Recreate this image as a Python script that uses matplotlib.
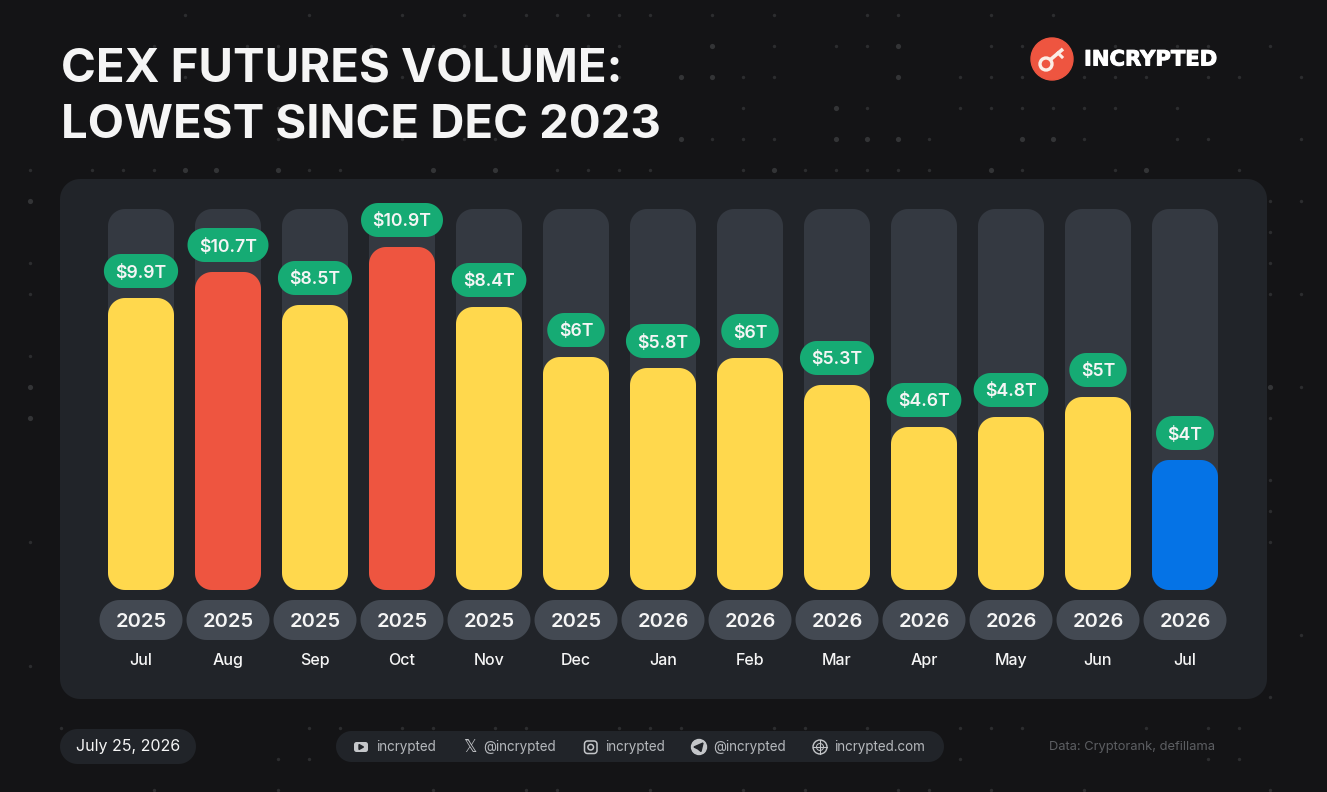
import numpy as np
import matplotlib
matplotlib.use("Agg")
import matplotlib.pyplot as plt
import matplotlib.patheffects as pe
from matplotlib.patches import Circle, Polygon

months = ["Jul", "Aug", "Sep", "Oct", "Nov", "Dec", "Jan", "Feb", "Mar", "Apr", "May", "Jun", "Jul"]
years = ["2025"] * 6 + ["2026"] * 7
value_labels = ["$9.9T", "$10.7T", "$8.5T", "$10.9T", "$8.4T", "$6T", "$5.8T", "$6T",
                "$5.3T", "$4.6T", "$4.8T", "$5T", "$4T"]
# the bars are not to scale with their labels, so these are the drawn heights
bar_heights = [292, 318, 285, 343, 283, 233, 222, 232, 205, 163, 173, 193, 130]
bar_colors = ["y", "r", "y", "r", "y", "y", "y", "y", "y", "y", "y", "y", "b"]
track_height = 381

# background dots: grid row -> grid columns
dot_rows = {
    0: [5, 9, 12, 14, 16, 17, 18, 19, 20, 22, 24, 27, 28, 31, 33],
    1: [4, 7, 8, 11, 13, 14, 15, 16, 18, 19, 22, 24, 26, 27, 28, 31, 32, 35, 37, 38, 40],
    2: [5, 12, 19, 21, 22, 23, 24, 28, 30, 31, 32, 34, 35, 36, 38, 39, 41],
    3: [8, 23, 26, 27, 30, 31, 32, 33, 34, 35, 37],
    4: [8, 12, 14, 15, 21, 22, 23, 24, 26, 27, 28, 29, 32, 33, 34, 37, 38, 41],
    5: [0, 2, 3, 4, 5, 6, 8, 9, 10, 13, 15, 17, 18, 19, 20, 23, 24, 25, 26, 27, 28, 29,
        31, 32, 35, 36, 39],
    6: [0, 40, 41], 7: [40], 8: [0, 40], 9: [0, 40, 41], 11: [0], 12: [0, 40, 41],
    13: [0, 40], 15: [40], 16: [40], 17: [0, 40], 20: [41], 21: [0], 22: [40],
    23: [1, 9, 10, 12, 13, 15, 16, 19, 20, 21, 24, 25, 27, 30, 31, 32, 36, 38, 39],
    24: [8, 9, 30, 38, 39],
    25: [4, 8, 13, 16, 17, 20, 23, 25, 28, 29, 31, 34, 40],
}
big_dots = [(1, 22), (1, 28), (2, 21), (2, 22), (2, 28), (3, 26), (4, 21), (4, 26), (4, 27),
            (4, 28), (4, 32), (4, 33), (5, 5), (5, 6), (5, 8), (5, 13), (5, 15), (5, 24),
            (5, 31), (5, 36), (12, 0), (13, 0), (12, 40), (6, 0)]

social_labels = ["incrypted", "@incrypted", "incrypted", "@incrypted", "incrypted.com"]

BG = "#141416"
PANEL = "#212429"
TRACK = "#343941"
PILL = "#434952"
GREEN = "#16AB74"
COLORS = {"y": "#FFD84D", "r": "#EE5540", "b": "#0573E6"}
TXT = "#F5F5F5"
ICON = "#C4C6C9"
FONT = "Inter"
PLOT_W, PLOT_H = 1327, 792
STEP = 87

fig = plt.figure(figsize=(13.27, 7.92), dpi=100, facecolor=BG)

# page furniture, in pixels from the top left
bg = fig.add_axes([0, 0, 1, 1])
bg.set_xlim(0, PLOT_W)
bg.set_ylim(PLOT_H, 0)
bg.axis("off")


def round_box(ax, x0, y0, w, h, rx, color, zorder=2, ry=None, **kw):
    # true circular corners, the bezier of FancyBboxPatch looks too square on the pills
    ry = rx if ry is None else ry
    pts = []
    corners = [(x0 + w - rx, y0 + h - ry, 0), (x0 + rx, y0 + h - ry, 90),
               (x0 + rx, y0 + ry, 180), (x0 + w - rx, y0 + ry, 270)]
    for cx, cy, start in corners:
        a = np.radians(np.linspace(start, start + 90, 16))
        pts.extend(zip(cx + rx * np.cos(a), cy + ry * np.sin(a)))
    box = Polygon(pts, closed=True, fc=color, ec="none", zorder=zorder, **kw)
    ax.add_patch(box)
    return box


for row, cols in dot_rows.items():
    for c in cols:
        big = (row, c) in big_dots
        bg.scatter(29.7 + 31 * c, 14.5 + 31 * row, s=14 if big else 6,
                   color="#333436" if big else "#2c2d2f", lw=0, zorder=1)

bg.text(61, 70, "CEX FUTURES VOLUME:", color=TXT, fontsize=34, fontweight="bold",
        family=FONT, va="center", zorder=3)
bg.text(61, 125, "LOWEST SINCE DEC 2023", color=TXT, fontsize=34, fontweight="bold",
        family=FONT, va="center", zorder=3)

# logo
bg.add_patch(Circle((1052, 59), 21, color="#EE5540", zorder=3))
bg.add_patch(Circle((1046, 64), 6, fc="none", ec="#FBEDE6", lw=2.4, zorder=4))
bg.plot([1050, 1063], [60, 49], color="#FBEDE6", lw=2.6, zorder=4, solid_capstyle="butt")
bg.plot([1058, 1062], [53, 57], color="#FBEDE6", lw=2.2, zorder=4)
bg.text(1084, 59.5, "INCRYPTED", color="white", fontsize=15.2, fontweight="bold",
        family="DejaVu Sans", va="center", zorder=3,
        path_effects=[pe.withStroke(linewidth=0.7, foreground="white")])

round_box(bg, 60, 179, 1207, 520, 20, PANEL)

# footer
round_box(bg, 60, 729, 136, 35, 17.5, PANEL)
bg.text(128, 746.5, "July 25, 2026", color=TXT, fontsize=11.5, family=FONT,
        ha="center", va="center", zorder=3)
round_box(bg, 336, 731, 608, 31, 15.5, PANEL)
social_x = [376, 483.5, 605, 713, 834]
icon_x = [361, 470, 591, 699, 820]
for x, label in zip(social_x, social_labels):
    bg.text(x, 746.5, label, color="#B5B8BC", fontsize=9.7, family=FONT, va="center", zorder=3)
# youtube
round_box(bg, 354, 742, 14, 10, 2.5, ICON, zorder=3)
bg.add_patch(Polygon([[359, 744.5], [359, 749.5], [363.5, 747]], color=PANEL, zorder=4))
# x
bg.text(icon_x[1], 746.5, "𝕏", color=ICON, fontsize=12, family="DejaVu Sans",
        ha="center", va="center", zorder=3)
# instagram
round_box(bg, 584.5, 741, 12.5, 12.5, 3, "none", zorder=3).set(ec=ICON, lw=1.1)
bg.add_patch(Circle((590.7, 747.2), 2.8, fc="none", ec=ICON, lw=1.1, zorder=3))
# telegram
bg.add_patch(Circle((699, 747), 7.5, color=ICON, zorder=3))
bg.add_patch(Polygon([[694, 747], [703, 743], [701, 751.5], [698, 749]], color=PANEL, zorder=4))
# globe
bg.add_patch(Circle((820, 747), 7, fc="none", ec=ICON, lw=1, zorder=3))
bg.plot([813, 827], [747, 747], color=ICON, lw=0.8, zorder=3)
bg.plot([820, 820], [740, 754], color=ICON, lw=0.8, zorder=3)
bg.add_patch(Circle((820, 747), 3.5, fc="none", ec=ICON, lw=0.7, zorder=3))
bg.text(1215, 747, "Data: Cryptorank, defillama", color="#5c5e62", fontsize=9.3, family=FONT,
        ha="right", va="center", zorder=3)

# chart: x in bar index, y in drawn height; one y unit is one pixel, one x unit is STEP pixels
ax = fig.add_axes([60 / PLOT_W, (PLOT_H - 699) / PLOT_H, 1207 / PLOT_W, 520 / PLOT_H])
ax.set_xlim((60 - 141) / STEP, (1267 - 141) / STEP)
ax.set_ylim(-109, 411)
ax.axis("off")
ax.patch.set_alpha(0)

fig.canvas.draw()
renderer = fig.canvas.get_renderer()

bar_w = 66 / STEP
r = 17 / STEP
for i, h in enumerate(bar_heights):
    round_box(ax, i - bar_w / 2, 0, bar_w, track_height, r, TRACK, 2, ry=17)
    round_box(ax, i - bar_w / 2, 0, bar_w, h, r, COLORS[bar_colors[i]], 3, ry=17)

    # value pill, sized to its text
    t = ax.text(i, h + 10 + 17, value_labels[i], color=TXT, fontsize=12.7, fontweight="semibold",
                family=FONT, ha="center", va="center_baseline", zorder=6)
    pw = (t.get_window_extent(renderer).width + 23) / STEP
    round_box(ax, i - pw / 2, h + 10, pw, 34, 17 / STEP, GREEN, 5, ry=17)

    # year pill and month
    yw = 83 / STEP
    round_box(ax, i - yw / 2, -50, yw, 40, 20 / STEP, PILL, 3, ry=20)
    ax.text(i, -30, years[i], color=TXT, fontsize=14.5, fontweight="semibold", family=FONT,
            ha="center", va="center_baseline", zorder=4)
    ax.text(i, -69, months[i], color=TXT, fontsize=11.5, fontweight="medium", family=FONT,
            ha="center", va="center_baseline", zorder=4)

fig.savefig("out.png", dpi=100, facecolor=BG)
